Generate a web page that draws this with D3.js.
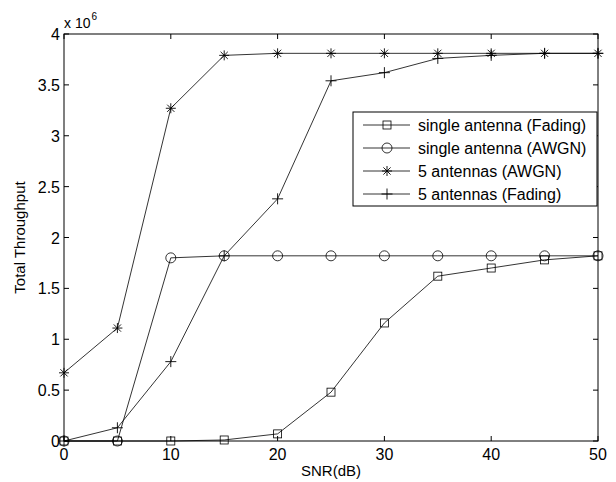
<!DOCTYPE html>
<html>
<head>
<meta charset="utf-8">
<script src="https://cdn.jsdelivr.net/npm/d3@7"></script>
<style>
  body { margin: 0; background: #fff; }
  svg text { font-family: "Liberation Sans", Arial, sans-serif; fill: #000; }
</style>
</head>
<body>
<div id="chart"></div>
<script>
const W = 616, H = 482;
const margin = { left: 64, right: 18, top: 34, bottom: 41 };

// data (throughput in units of 1e6)
const snr = [0, 5, 10, 15, 20, 25, 30, 35, 40, 45, 50];
const singleFading = [0, 0, 0, 0.01, 0.07, 0.48, 1.16, 1.62, 1.70, 1.78, 1.82];
const singleAWGN = [0, 0, 1.80, 1.82, 1.82, 1.82, 1.82, 1.82, 1.82, 1.82, 1.82];
const fiveAWGN = [0.67, 1.11, 3.27, 3.79, 3.81, 3.81, 3.81, 3.81, 3.81, 3.81, 3.81];
const fiveFading = [0, 0.13, 0.78, 1.82, 2.38, 3.54, 3.62, 3.76, 3.79, 3.81, 3.81];
const xTicks = [0, 10, 20, 30, 40, 50];
const yTicks = [0, 0.5, 1, 1.5, 2, 2.5, 3, 3.5, 4];

const series = [
  { name: "single antenna (Fading)", values: singleFading, marker: "square" },
  { name: "single antenna (AWGN)", values: singleAWGN, marker: "circle" },
  { name: "5 antennas (AWGN)", values: fiveAWGN, marker: "star" },
  { name: "5 antennas (Fading)", values: fiveFading, marker: "plus" }
];

const svg = d3.select("#chart").append("svg")
    .attr("width", W).attr("height", H);

const x = d3.scaleLinear().domain([0, 50]).range([margin.left, W - margin.right]);
const y = d3.scaleLinear().domain([0, 4]).range([H - margin.bottom, margin.top]);

const g = svg.append("g");

// markers
function drawMarker(sel, type) {
  if (type === "square") {
    sel.append("rect").attr("x", -4).attr("y", -4).attr("width", 8).attr("height", 8)
      .attr("fill", "none").attr("stroke", "#000").attr("stroke-width", 0.8);
  } else if (type === "circle") {
    sel.append("circle").attr("r", 5)
      .attr("fill", "none").attr("stroke", "#000").attr("stroke-width", 0.8);
  } else if (type === "star") {
    sel.append("path").attr("d", "M-5,0H5M0,-5V5M-3.6,-3.6L3.6,3.6M-3.6,3.6L3.6,-3.6")
      .attr("stroke", "#000").attr("stroke-width", 0.9);
  } else {
    sel.append("path").attr("d", "M-5.5,0H5.5M0,-5.5V5.5")
      .attr("stroke", "#000").attr("stroke-width", 0.9);
  }
}

const line = d3.line().x((d, i) => x(snr[i])).y(d => y(d));

series.forEach(s => {
  g.append("path").datum(s.values)
    .attr("d", line)
    .attr("fill", "none")
    .attr("stroke", "#000")
    .attr("stroke-width", 0.8);
  s.values.forEach((v, i) => {
    const m = g.append("g").attr("transform", `translate(${x(snr[i])},${y(v)})`);
    drawMarker(m, s.marker);
  });
});

// axes box with inward ticks on all sides
const x0 = x.range()[0], x1 = x.range()[1], y0 = y.range()[0], y1 = y.range()[1];
const tl = 5;

const axes = svg.append("g").attr("stroke", "#000").attr("stroke-width", 1);
axes.append("rect").attr("x", x0).attr("y", y1).attr("width", x1 - x0).attr("height", y0 - y1)
  .attr("fill", "none");

xTicks.forEach(t => {
  axes.append("line").attr("x1", x(t)).attr("x2", x(t)).attr("y1", y0).attr("y2", y0 - tl);
  axes.append("line").attr("x1", x(t)).attr("x2", x(t)).attr("y1", y1).attr("y2", y1 + tl);
  svg.append("text").attr("x", x(t)).attr("y", y0 + 19)
    .attr("text-anchor", "middle").attr("font-size", 16).text(t);
});
yTicks.forEach(t => {
  axes.append("line").attr("x1", x0).attr("x2", x0 + tl).attr("y1", y(t)).attr("y2", y(t));
  axes.append("line").attr("x1", x1).attr("x2", x1 - tl).attr("y1", y(t)).attr("y2", y(t));
  svg.append("text").attr("x", x0 - 4).attr("y", y(t) + 6)
    .attr("text-anchor", "end").attr("font-size", 16).text(t);
});

// exponent
const exp = svg.append("text").attr("x", x0).attr("y", y1 - 6).attr("font-size", 14);
exp.append("tspan").text("x 10");
exp.append("tspan").attr("dx", 1).attr("dy", -8).attr("font-size", 10).text("6");

// axis labels
svg.append("text").attr("x", (x0 + x1) / 2).attr("y", H - 6)
  .attr("text-anchor", "middle").attr("font-size", 15).text("SNR(dB)");
svg.append("text").attr("transform", `translate(25,${(y0 + y1) / 2}) rotate(-90)`)
  .attr("text-anchor", "middle").attr("font-size", 15).text("Total Throughput");

// legend
const lg = svg.append("g").attr("transform", "translate(353,112)");
lg.append("rect").attr("width", 244).attr("height", 94)
  .attr("fill", "#fff").attr("stroke", "#000").attr("stroke-width", 1);
series.forEach((s, i) => {
  const yy = 13 + i * 23;
  lg.append("line").attr("x1", 10).attr("x2", 57).attr("y1", yy).attr("y2", yy)
    .attr("stroke", "#000").attr("stroke-width", 0.8);
  drawMarker(lg.append("g").attr("transform", `translate(34,${yy})`), s.marker);
  lg.append("text").attr("x", 65).attr("y", yy + 6).attr("font-size", 16).text(s.name);
});
</script>
</body>
</html>
